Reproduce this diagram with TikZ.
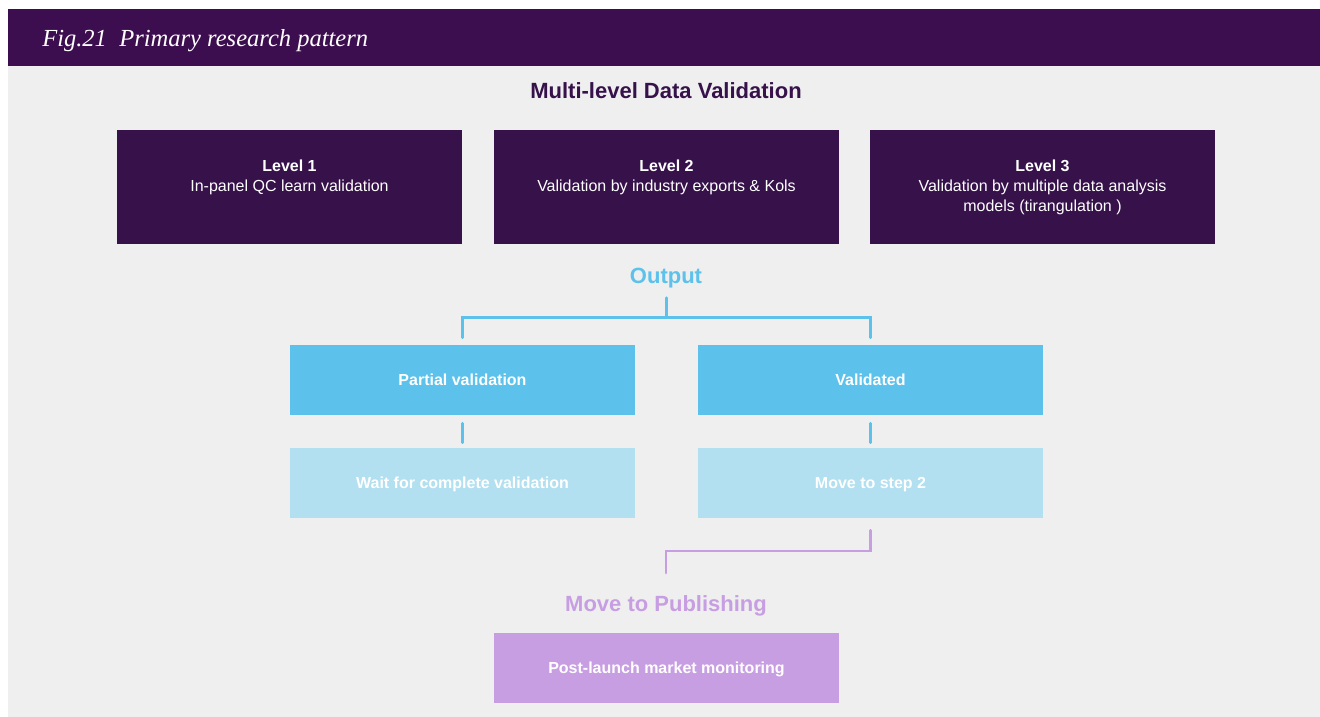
\documentclass[tikz,border=0pt]{standalone}
\usepackage{fontspec}
\setmainfont{Liberation Sans}
\newfontfamily\headfont{Liberation Serif}
\usetikzlibrary{calc}
\definecolor{headpurple}{HTML}{3D0E4F}
\definecolor{levelpurple}{HTML}{36114A}
\definecolor{panelgray}{HTML}{EFEFEF}
\definecolor{outblue}{HTML}{5CC1EB}
\definecolor{paleblue}{HTML}{B2E0F0}
\definecolor{lavender}{HTML}{C89EE2}
\begin{document}
\begin{tikzpicture}[x=0.75pt,y=-0.75pt,
  levelbox/.style={fill=levelpurple, draw=none, minimum width=258.75pt, minimum height=85.5pt, inner sep=0pt},
  leveltext/.style={text=white, align=center, font=\fontsize{12}{15}\selectfont, inner sep=0pt, anchor=north},
  flatbox/.style={draw=none, minimum width=258.75pt, minimum height=52.5pt, inner sep=0pt,
    text=white, font=\bfseries\fontsize{12}{15}\selectfont, text height=8.6pt, text depth=0pt},
  outbox/.style={flatbox, fill=outblue},
  palebox/.style={flatbox, fill=paleblue},
  pubbox/.style={flatbox, fill=lavender},
  heading/.style={font=\bfseries\fontsize{16.5}{20}\selectfont, inner sep=0pt, anchor=base},
  blueline/.style={draw=outblue, line width=2.25pt, line cap=round},
  lavline/.style={draw=lavender, line width=2.1pt, line cap=round}
]
\useasboundingbox (0,0) rectangle (1320,717);
% page, panel and title band
\fill[white] (0,0) rectangle (1320,717);
\fill[panelgray] (8,66) rectangle (1320,717);
\fill[headpurple] (8,9) rectangle (1320,66);
\node[anchor=base west, inner sep=0pt, text=white, font=\headfont\itshape\fontsize{18.4}{22}\selectfont]
  (figtitle) at (42,47) {Fig.21\ \ Primary research pattern};

% validation levels
\node[heading, text=levelpurple] (mltitle) at (666,98.3) {Multi-level Data Validation};
\node[levelbox] (lv1) at (289.5,187) {};
\node[levelbox] (lv2) at (666.5,187) {};
\node[levelbox] (lv3) at (1042.5,187) {};
\node[leveltext] (lv1t) at (289.5,159.5) {\textbf{Level 1}\\In-panel QC learn validation};
\node[leveltext] (lv2t) at (666.5,159.5) {\textbf{Level 2}\\Validation by industry exports \& Kols};
\node[leveltext] (lv3t) at (1042.5,159.5) {\textbf{Level 3}\\Validation by multiple data analysis\\models (tirangulation )};

% output branch
\node[heading, text=outblue] (out) at (666,283.3) {Output};
\node[outbox] (pv) at (462.5,380) {Partial validation};
\node[outbox] (vd) at (870.5,380) {Validated};
\node[palebox] (wt) at (462.5,483) {Wait for complete validation};
\node[palebox] (ms) at (870.5,483) {Move to step 2};
\coordinate (ohub) at (666,317);
\draw[blueline] (out.base) ++(0,14.5) -- (ohub);
\draw[blueline] ($(pv.north)+(0,-7)$) |- (ohub) -| ($(vd.north)+(0,-7)$);
\draw[blueline] ($(pv.south)+(0,8)$) -- ($(wt.north)+(0,-5)$);
\draw[blueline] ($(vd.south)+(0,8)$) -- ($(ms.north)+(0,-5)$);

% publishing
\node[heading, text=lavender] (pub) at (666,611.7) {Move to Publishing};
\node[pubbox] (plm) at (666.5,668) {Post-launch market monitoring};
\coordinate (phub) at (666,551);
\coordinate (pend) at (666,573);
\draw[lavline] ($(ms.south)+(0,12)$) |- (phub) -- (pend);
\end{tikzpicture}
\end{document}
